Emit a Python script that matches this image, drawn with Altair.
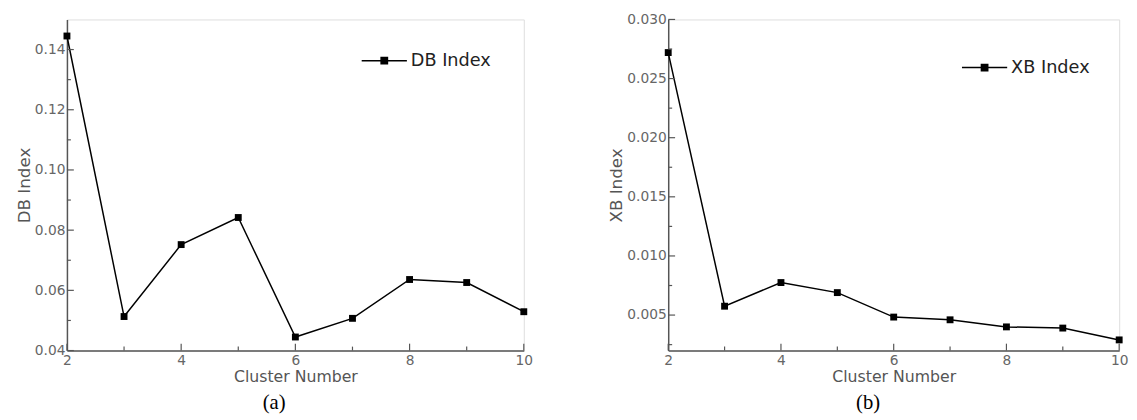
import altair as alt
import pandas as pd

# ---- data ----
clusters = [2, 3, 4, 5, 6, 7, 8, 9, 10]
db_index = [0.1445, 0.0513, 0.0752, 0.0842, 0.0445, 0.0507, 0.0636, 0.0626, 0.0529]
xb_index = [0.0272, 0.00575, 0.00775, 0.0069, 0.00483, 0.0046, 0.0040, 0.0039, 0.0029]

x_major = [2, 4, 6, 8, 10]
x_minor = [3, 5, 7, 9]
db_major = [0.04, 0.06, 0.08, 0.10, 0.12, 0.14]
db_minor = [0.05, 0.07, 0.09, 0.11, 0.13]
xb_major = [0.005, 0.010, 0.015, 0.020, 0.025, 0.030]
xb_minor = [0.0025, 0.0075, 0.0125, 0.0175, 0.0225, 0.0275]

FONT = "DejaVu Sans"
AX = "#555555"
LBL = "#666666"
LEGEND_PATH = "M-1,0H1M-0.14,-0.14H0.14V0.14H-0.14Z"


def panel(values, name, ydom, ymaj, ymin, yfmt, W, H, caption, lx, ly):
    df = pd.DataFrame({"k": clusters, "val": values, "series": [name] * len(clusters)})
    xs = alt.Scale(domain=[2, 10], nice=False, zero=False)
    ys = alt.Scale(domain=ydom, nice=False, zero=False)
    xax = alt.Axis(values=x_major, title="Cluster Number", ticks=False, grid=False,
                   labelFont=FONT, labelFontSize=14, labelColor=LBL, labelPadding=3,
                   titleFont=FONT, titleFontSize=16, titleFontWeight="normal",
                   titleColor=AX, titlePadding=2, domainColor=AX, domainWidth=1.5,
                   labelFlush=False)
    yax = alt.Axis(values=ymaj, title=name, ticks=False, grid=False, format=yfmt,
                   labelFont=FONT, labelFontSize=14, labelColor=LBL, labelPadding=2,
                   titleFont=FONT, titleFontSize=17, titleFontWeight="normal",
                   titleColor=AX, titlePadding=1, domainColor=AX, domainWidth=1.5,
                   labelFlush=False)
    X = alt.X("k:Q", scale=xs, axis=xax)
    Y = alt.Y("val:Q", scale=ys, axis=yax)
    base = alt.Chart(df)
    line = base.mark_line(color="black", strokeWidth=1.5).encode(x=X, y=Y)
    pts = base.mark_point(shape="square", filled=True, size=49, opacity=1).encode(
        x=X, y=Y,
        color=alt.Color("series:N", scale=alt.Scale(range=["black"]),
                        legend=alt.Legend(title=None, orient="none", legendX=lx, legendY=ly,
                                          symbolType=LEGEND_PATH, symbolSize=2116,
                                          symbolStrokeWidth=1.5, symbolStrokeColor="black",
                                          symbolFillColor="black",
                                          labelFont=FONT, labelFontSize=18, labelColor="#222222",
                                          labelOffset=3)),
    )
    xt_maj = alt.Chart(pd.DataFrame({"k": x_major})).mark_rule(color=AX, strokeWidth=1.2).encode(
        x=X, y=alt.value(H), y2=alt.value(H - 7))
    xt_min = alt.Chart(pd.DataFrame({"k": x_minor})).mark_rule(color=AX, strokeWidth=1.2).encode(
        x=X, y=alt.value(H), y2=alt.value(H - 4))
    yt_maj = alt.Chart(pd.DataFrame({"val": ymaj})).mark_rule(color=AX, strokeWidth=1.2).encode(
        y=Y, x=alt.value(0), x2=alt.value(7))
    yt_min = alt.Chart(pd.DataFrame({"val": ymin})).mark_rule(color=AX, strokeWidth=1.2).encode(
        y=Y, x=alt.value(0), x2=alt.value(4))
    return alt.layer(line, pts, xt_maj, xt_min, yt_maj, yt_min).properties(
        width=W, height=H,
        title=alt.TitleParams(caption, orient="bottom", anchor="middle", frame="bounds",
                              font="Liberation Serif", fontSize=21, fontWeight="normal",
                              color="black", offset=8),
    )


left = panel(db_index, "DB Index", [0.04, 0.15], db_major, db_minor, ".2f",
             465, 337, "(a)", 299, 18)
right = panel(xb_index, "XB Index", [0.002, 0.030], xb_major, xb_minor, ".3f",
              459, 337, "(b)", 298, 25)

chart = alt.hconcat(left, right, spacing=75).resolve_scale(color="independent").configure_view(
    stroke=AX, strokeWidth=1.5
).properties(
    padding={"left": 7, "top": 0, "right": 0, "bottom": 0}
).configure(background="white")

chart.save("out.html", embed_options={"renderer": "svg", "actions": False})
